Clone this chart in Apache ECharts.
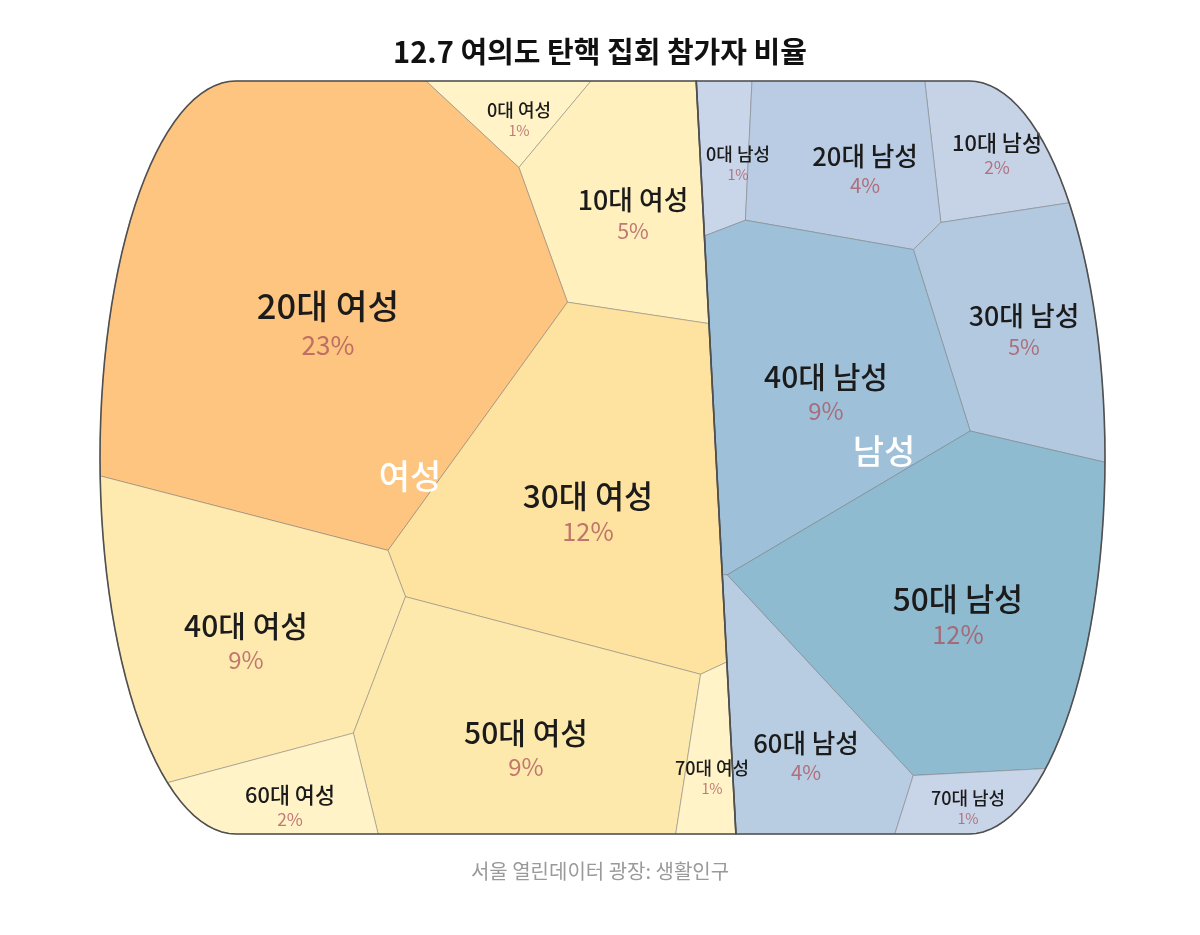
<!DOCTYPE html>
<html>
<head>
<meta charset="utf-8">
<script src="https://cdn.jsdelivr.net/npm/echarts@6/dist/echarts.min.js"></script>
<style>
html,body{margin:0;padding:0;background:#ffffff;}
#chart{width:1200px;height:935px;}
</style>
</head>
<body>
<div id="chart"></div>
<script>
// ---------------- data ----------------
const titleText = '12.7 여의도 탄핵 집회 참가자 비율';
const sourceText = '서울 열린데이터 광장: 생활인구';
const groups = ['여성', '남성'];
const ageBands = ['0대', '10대', '20대', '30대', '40대', '50대', '60대', '70대'];
const womenShare = [1, 5, 23, 12, 9, 9, 2, 1];   // %
const menShare   = [1, 2, 4, 5, 9, 12, 4, 1];    // %

// ---------------- layout hints (seed points of the Voronoi treemap, page units) ----------------
const groupSeeds = [[410, 476], [884, 451]];
const womenSeeds = [[519, 120], [633, 215], [328, 325], [588, 513], [246, 642], [526, 749], [290, 807], [712, 778]];
const menSeeds   = [[738, 164], [997, 155], [865, 170], [1024, 331], [826, 393], [958, 616], [806, 757], [968, 808]];
const frame = { x0: 100, x1: 1105, y0: 81, y1: 834, rx: 136 };

// ---------------- styles ----------------
const womenColors = ['#fff3c7', '#fff0be', '#fdc57f', '#fee29f', '#feeaae', '#fee9ac', '#fff3c7', '#fff3c7'];
const menColors   = ['#c9d5e8', '#c6d3e7', '#b9cce3', '#b3c9df', '#9ec1d9', '#8fbbd0', '#b9cde2', '#c8d4e8'];
const FONT = "'Noto Sans CJK KR', 'Noto Sans', sans-serif";

// ---------------- power-diagram (Voronoi treemap) geometry ----------------
function polyArea(p) {
  let s = 0;
  for (let k = 0; k < p.length; k++) {
    const a = p[k], b = p[(k + 1) % p.length];
    s += a[0] * b[1] - b[0] * a[1];
  }
  return Math.abs(s) / 2;
}
function clipHalf(poly, a, b, c) { // keep a*x + b*y <= c
  const out = [];
  for (let k = 0; k < poly.length; k++) {
    const P = poly[k], Q = poly[(k + 1) % poly.length];
    const fp = a * P[0] + b * P[1] - c, fq = a * Q[0] + b * Q[1] - c;
    if (fp <= 0) out.push(P);
    if ((fp < 0 && fq > 0) || (fp > 0 && fq < 0)) {
      const t = fp / (fp - fq);
      out.push([P[0] + t * (Q[0] - P[0]), P[1] + t * (Q[1] - P[1])]);
    }
  }
  return out;
}
function bisector(s, t, wi, wj) {
  const a = 2 * (t[0] - s[0]), b = 2 * (t[1] - s[1]);
  const c = (t[0] * t[0] + t[1] * t[1]) - (s[0] * s[0] + s[1] * s[1]) - wj + wi;
  return [a, b, c];
}
function powerCells(region, seeds, w) {
  return seeds.map((s, i) => {
    let poly = region.slice();
    for (let j = 0; j < seeds.length; j++) {
      if (j === i || poly.length < 3) continue;
      const [a, b, c] = bisector(s, seeds[j], w[i], w[j]);
      poly = clipHalf(poly, a, b, c);
    }
    return poly;
  });
}
function areaDerivative(cell, i, seeds, w) {
  let D = 0;
  for (let k = 0; k < cell.length; k++) {
    const P = cell[k], Q = cell[(k + 1) % cell.length];
    const mx = (P[0] + Q[0]) / 2, my = (P[1] + Q[1]) / 2;
    const len = Math.hypot(Q[0] - P[0], Q[1] - P[1]);
    for (let j = 0; j < seeds.length; j++) {
      if (j === i) continue;
      const [a, b, c] = bisector(seeds[i], seeds[j], w[i], w[j]);
      const n = Math.hypot(a, b);
      if (Math.abs(a * mx + b * my - c) / n < 1e-3) { D += len / n; break; }
    }
  }
  return D;
}
function solveTreemap(region, seeds, values) {
  const n = seeds.length;
  const total = polyArea(region);
  const sum = values.reduce((a, b) => a + b, 0);
  const target = values.map(v => total * v / sum);
  const w = new Array(n).fill(0);
  let cells = powerCells(region, seeds, w);
  for (let it = 0; it < 600; it++) {
    const dw = [];
    for (let i = 0; i < n; i++) {
      const A = cells[i].length >= 3 ? polyArea(cells[i]) : 0;
      const D = cells[i].length >= 3 ? areaDerivative(cells[i], i, seeds, w) : 0;
      let step = 0.5 * (target[i] - A) / Math.max(D, 0.05);
      step = Math.max(-4000, Math.min(4000, step));
      dw.push(step);
    }
    for (let i = 0; i < n; i++) w[i] += dw[i];
    cells = powerCells(region, seeds, w);
  }
  return cells;
}
function framePolygon(f) {
  const pts = [], N = 60;
  const cy = (f.y0 + f.y1) / 2, ry = (f.y1 - f.y0) / 2;
  const xl = f.x0 + f.rx, xr = f.x1 - f.rx;
  for (let k = 0; k <= N; k++) { const a = -Math.PI / 2 + Math.PI * k / N; pts.push([xr + f.rx * Math.cos(a), cy + ry * Math.sin(a)]); }
  for (let k = 0; k <= N; k++) { const a = Math.PI / 2 + Math.PI * k / N; pts.push([xl + f.rx * Math.cos(a), cy + ry * Math.sin(a)]); }
  return pts;
}

const groupTotals = [womenShare.reduce((a, b) => a + b, 0), menShare.reduce((a, b) => a + b, 0)];
const region = framePolygon(frame);
const groupCells = solveTreemap(region, groupSeeds, groupTotals);
const womenCells = solveTreemap(groupCells[0], womenSeeds, womenShare);
const menCells = solveTreemap(groupCells[1], menSeeds, menShare);

function buildCells(vals, seeds, polys, cols, g) {
  return vals.map((v, i) => ({ name: ageBands[i] + ' ' + groups[g], value: [seeds[i][0], seeds[i][1], v], poly: polys[i], color: cols[i] }));
}
const womenItems = buildCells(womenShare, womenSeeds, womenCells, womenColors, 0);
const menItems = buildCells(menShare, menSeeds, menCells, menColors, 1);

function nameSize(v) { return Math.min(34.5, 18 + 3.8 * Math.log2(v)); }

function cellRenderer(items) {
  return function (params, api) {
    const c = items[params.dataIndex];
    const pts = c.poly.map(p => api.coord(p));
    const ctr = api.coord([api.value(0), api.value(1)]);
    const v = api.value(2);
    const fs = nameSize(v);
    const ps = Math.min(26, fs * 0.8);
    return {
      type: 'group',
      children: [
        { type: 'polygon', z2: 0, shape: { points: pts }, style: { fill: c.color, stroke: 'rgba(110,110,110,0.45)', lineWidth: 1 } },
        { type: 'text', z2: 10, x: ctr[0], y: ctr[1] - fs * 0.55, style: { text: c.name, fontFamily: FONT, fontSize: fs, fontWeight: 500, fill: '#1b1b1b', align: 'center', verticalAlign: 'middle' } },
        { type: 'text', z2: 10, x: ctr[0], y: ctr[1] + fs * 0.58, style: { text: v + '%', fontFamily: FONT, fontSize: ps, fontWeight: 'normal', fill: 'rgba(170,80,90,0.75)', align: 'center', verticalAlign: 'middle' } }
      ]
    };
  };
}

const chart = echarts.init(document.getElementById('chart'));
chart.setOption({
  animation: false,
  backgroundColor: '#ffffff',
  title: [
    { text: titleText, left: 'center', top: 32, textStyle: { fontFamily: FONT, fontSize: 29, fontWeight: 'bold', color: '#111111' } },
    { text: sourceText, left: 'center', top: 856, textStyle: { fontFamily: FONT, fontSize: 20, fontWeight: 'normal', color: '#9a9a9a' } }
  ],
  tooltip: { trigger: 'item', formatter: p => p.name + ': ' + p.value[2] + '%' },
  grid: { left: 0, right: 0, top: 0, bottom: 0 },
  xAxis: { type: 'value', min: 0, max: 1200, show: false },
  yAxis: { type: 'value', min: 0, max: 935, inverse: true, show: false },
  series: [
    {
      name: groups[1],
      type: 'custom',
      coordinateSystem: 'cartesian2d',
      data: menItems.map(c => ({ name: c.name, value: c.value })),
      renderItem: cellRenderer(menItems),
      z: 2
    },
    {
      name: groups[0],
      type: 'custom',
      coordinateSystem: 'cartesian2d',
      data: womenItems.map(c => ({ name: c.name, value: c.value })),
      renderItem: cellRenderer(womenItems),
      z: 3
    },
    {
      type: 'custom',
      coordinateSystem: 'cartesian2d',
      silent: true,
      data: groups.map((g, i) => ({ name: g, value: [groupSeeds[i][0], groupSeeds[i][1], groupTotals[i]] })),
      renderItem: function (params, api) {
        const pts = groupCells[params.dataIndex].map(p => api.coord(p));
        const ctr = api.coord([api.value(0), api.value(1)]);
        return {
          type: 'group',
          children: [
            { type: 'polygon', shape: { points: pts }, style: { fill: 'none', stroke: '#505050', lineWidth: 1.6 } },
            { type: 'text', x: ctr[0], y: ctr[1], style: { text: groups[params.dataIndex], fontFamily: FONT, fontSize: 34, fontWeight: 500, fill: '#ffffff', align: 'center', verticalAlign: 'middle' } }
          ]
        };
      },
      z: 4
    }
  ]
});
</script>
</body>
</html>
